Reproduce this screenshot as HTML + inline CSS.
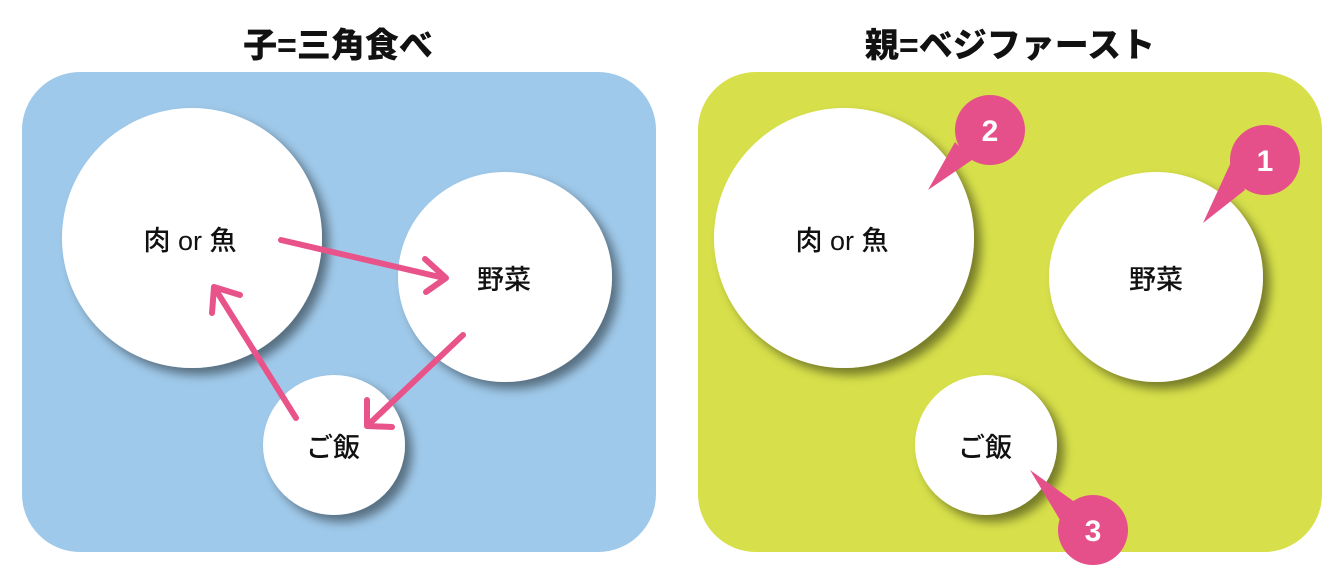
<!DOCTYPE html>
<html><head><meta charset="utf-8"><style>
html,body{margin:0;padding:0;background:#fff;}
svg{display:block;}
text{font-family:"Liberation Sans","Noto Sans CJK JP",sans-serif;}
</style></head><body>
<svg width="1340" height="572" viewBox="0 0 1340 572" xmlns="http://www.w3.org/2000/svg">
<defs>
<filter id="sh" x="-20%" y="-20%" width="150%" height="150%">
<feDropShadow dx="7" dy="7" stdDeviation="5" flood-color="#000" flood-opacity="0.45"/>
</filter>
</defs>
<text x="338" y="57" text-anchor="middle" font-size="34" font-weight="900" fill="#111">子=三角食べ</text>
<text x="1010" y="57" text-anchor="middle" font-size="34" font-weight="900" fill="#111">親=ベジファースト</text>

<rect x="22" y="72" width="634" height="480" rx="58" fill="#9fc9ea"/>
<rect x="698" y="72" width="624" height="480" rx="58" fill="#d7e04a"/>

<g filter="url(#sh)" fill="#fff">
<ellipse cx="192" cy="238" rx="130" ry="130"/>
<ellipse cx="505" cy="277" rx="107" ry="105"/>
<ellipse cx="334" cy="445" rx="71" ry="70"/>
<ellipse cx="844" cy="238" rx="130" ry="130"/>
<ellipse cx="1156" cy="277" rx="107" ry="105"/>
<ellipse cx="986" cy="445" rx="71" ry="70"/>
</g>

<g font-size="27" font-weight="500" fill="#111" text-anchor="middle">
<text x="190" y="250">肉 or 魚</text>
<text x="504" y="289">野菜</text>
<text x="333" y="457">ご飯</text>
<text x="842" y="250">肉 or 魚</text>
<text x="1156" y="289">野菜</text>
<text x="985" y="457">ご飯</text>
</g>

<g stroke="#e8548a" stroke-width="6" stroke-linecap="round" stroke-linejoin="round" fill="none">
<line x1="281" y1="240" x2="444" y2="278"/>
<polyline points="425,259 446,278 426,292"/>
<line x1="463" y1="335" x2="368" y2="425"/>
<polyline points="367,400 367,426 392,427"/>
<line x1="296" y1="418" x2="214" y2="287"/>
<polyline points="212,313 214,287 240,295"/>
</g>

<g fill="#e5508a">
<path d="M972,160 L928,190 L955,142 Z"/>
<circle cx="990" cy="130" r="35"/>
<path d="M1245,190 L1203,223 L1232,160 Z"/>
<circle cx="1265" cy="160" r="35"/>
<path d="M1076,503 L1030,470 L1060,520 Z"/>
<circle cx="1093" cy="530" r="35"/>
</g>
<g font-size="30" font-weight="bold" fill="#fff" text-anchor="middle">
<text x="990" y="141">2</text>
<text x="1265" y="171">1</text>
<text x="1093" y="541">3</text>
</g>
</svg>
</body></html>
